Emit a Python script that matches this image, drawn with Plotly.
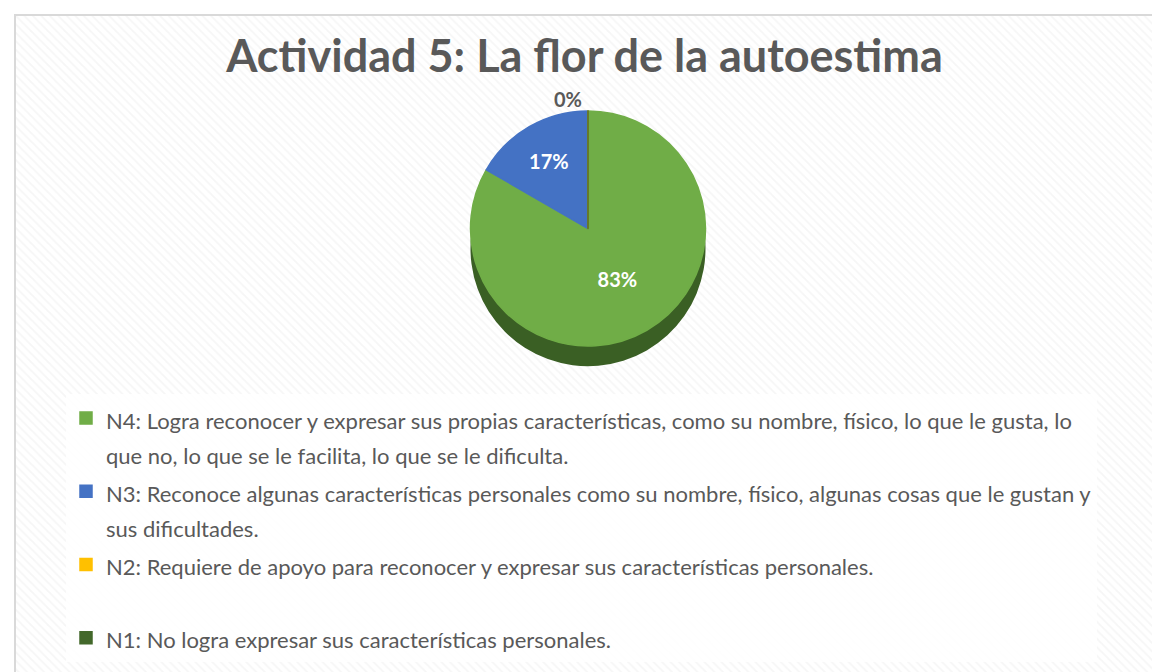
import plotly.graph_objs as go

# datos
niveles = ['N4: Logra reconocer y expresar sus propias características, como su nombre, físico, lo que le gusta, lo<br>que no, lo que se le facilita, lo que se le dificulta.',
           'N3: Reconoce algunas características personales como su nombre, físico, algunas cosas que le gustan y<br>sus dificultades.',
           'N2: Requiere de apoyo para reconocer y expresar sus características personales.<br> ',
           'N1: No logra expresar sus características personales.']
alumnos = [5, 1, 0, 0]
colores = ['#70AD47', '#4472C4', '#FFC000', '#43682B']
colores_lado = ['#3A5F24', '#2F5597', '#BF9000', '#2E4A1E']

W, H = 1160, 672
texto = ['<span style="font-size:22px">' + n + '</span>' for n in niveles]

# fondo rayado
fondo = go.Scatter(x=[0, 1, 1, 0, 0], y=[0, 0, 1, 1, 0], mode='lines', fill='toself',
                   line={'width': 0}, fillcolor='white',
                   fillpattern={'shape': '\\', 'fgcolor': '#ededed', 'bgcolor': 'white',
                                'size': 6, 'solidity': 0.3},
                   hoverinfo='skip', showlegend=False)

dom_y = [1 - 338 / H, 1 - 103 / H]

# lado del pastel (efecto 3D)
lado = go.Pie(labels=niveles, values=alumnos, sort=False, direction='clockwise', rotation=0,
              marker={'colors': colores_lado, 'line': {'width': 0}},
              textinfo='none', hoverinfo='skip', showlegend=False,
              domain={'x': [0.3, 0.7], 'y': [dom_y[0] - 0.03, dom_y[1] - 0.03]})

pastel = go.Pie(labels=texto, values=alumnos, sort=False, direction='clockwise', rotation=0,
                marker={'colors': colores, 'line': {'width': 1.5, 'color': colores}},
                texttemplate='%{percent:.0%}',
                textposition=['inside', 'inside', 'outside', 'none'],
                insidetextorientation='horizontal',
                textfont={'family': 'Lato', 'size': 20, 'color': 'white', 'weight': 'bold'},
                outsidetextfont={'family': 'Lato', 'size': 20, 'color': '#595959', 'weight': 'bold'},
                domain={'x': [0.3, 0.7], 'y': dom_y})

fig = go.Figure(data=[fondo, lado, pastel])
fig.update_layout(
    width=W, height=H,
    margin={'l': 0, 'r': 0, 't': 0, 'b': 0},
    paper_bgcolor='white', plot_bgcolor='white',
    xaxis={'domain': [7 / W, 1158 / W], 'range': [0, 1], 'visible': False, 'fixedrange': True},
    yaxis={'domain': [0, 1 - 7 / H], 'range': [0, 1], 'visible': False, 'fixedrange': True},
    title={'text': 'Actividad 5: La flor de la autoestima', 'x': 0.497, 'xanchor': 'center',
           'y': 1 - 48 / H, 'yanchor': 'middle',
           'font': {'family': 'Lato', 'size': 45, 'color': '#595959', 'weight': 'bold'}},
    legend={'x': 0.05, 'y': 1 - 386 / H, 'xanchor': 'left', 'yanchor': 'top',
            'bgcolor': 'rgba(255,255,255,0.85)', 'valign': 'top',
            'font': {'family': 'Lato', 'size': 27, 'color': '#595959'},
            'traceorder': 'normal'},
    shapes=[{'type': 'rect', 'xref': 'paper', 'yref': 'paper',
             'x0': 7 / W, 'x1': 1158 / W, 'y0': -0.02, 'y1': 1 - 7 / H,
             'line': {'color': '#d9d9d9', 'width': 2}}],
)

fig.write_html('out.html')
